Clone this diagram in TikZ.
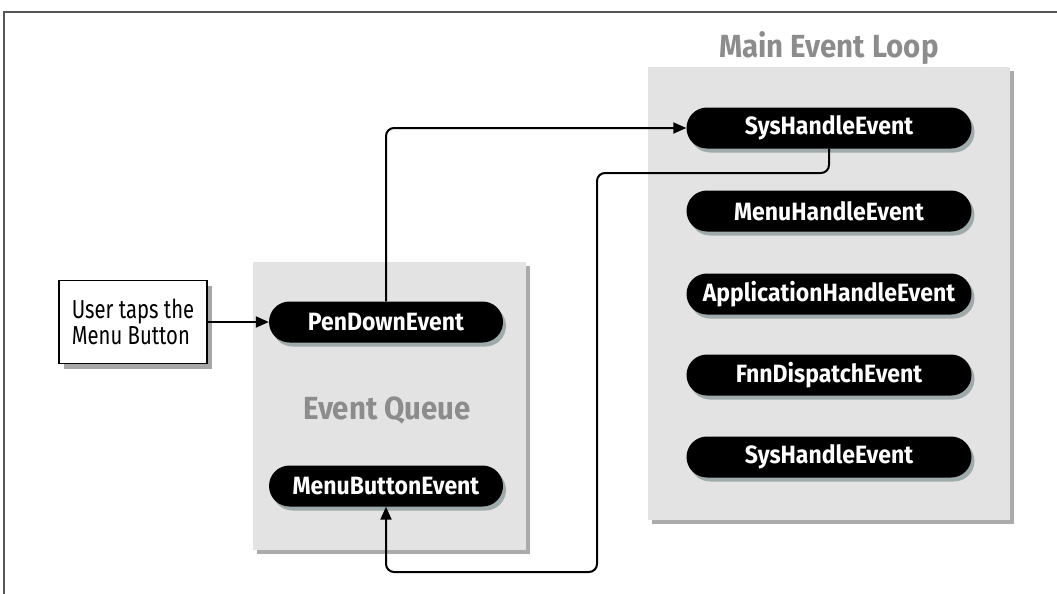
\documentclass[tikz,border=0pt]{standalone}
\usepackage{fontspec}
\newfontfamily\pillfont[FakeStretch=0.92]{Fira Sans}
\newfontfamily\userfont[FakeStretch=0.78]{Fira Sans}
\usetikzlibrary{arrows.meta,shapes.misc,shadows}
\definecolor{panel}{HTML}{E3E3E3}
\definecolor{panelshadow}{HTML}{ABABAB}
\definecolor{titlegray}{HTML}{8C8C8C}
\definecolor{pillshadow}{HTML}{8E9C9C}
\definecolor{framegray}{HTML}{555555}
\tikzset{
  panelbox/.style={fill=panel, draw=none, drop shadow={shadow xshift=4pt, shadow yshift=-4pt, fill=panelshadow, opacity=1}},
  pill/.style={rounded rectangle, fill=black, text=white, minimum height=41pt, inner sep=0pt,
    font=\pillfont\bfseries\fontsize{25}{28}\selectfont,
    drop shadow={shadow xshift=3pt, shadow yshift=-4pt, fill=pillshadow, opacity=0.8}},
  bigpill/.style={pill, minimum width=285pt},
  smallpill/.style={pill, minimum width=234pt},
  paneltitle/.style={text=titlegray, font=\pillfont\bfseries\fontsize{32}{34}\selectfont},
  userbox/.style={draw=black, line width=1.2pt, fill=white, minimum width=148pt, minimum height=83pt,
    align=left, font=\userfont\fontsize{26}{26}\selectfont,
    drop shadow={shadow xshift=5pt, shadow yshift=-5pt, fill=gray!70, opacity=1}},
  conn/.style={line width=2pt, rounded corners=8pt, -{Triangle[length=13pt,width=11pt]}},
}
\begin{document}
\begin{tikzpicture}[x=1pt,y=-1pt]
\useasboundingbox (0,0) rectangle (1057,594);
\fill[white] (0,0) rectangle (1057,594);
% frame
\draw[line width=2.5pt, framegray] (4,594) -- (4,12) -- (1057,12);
% panels
\path[panelbox] (648,67) rectangle (1010,520);
\path[panelbox] (253,262) rectangle (526,550);
\node[paneltitle] (mtitle) at (829,48) {Main Event Loop};
\node[paneltitle] (qtitle) at (387,410) {Event Queue};
% main loop pills
\node[bigpill] (sh1) at (829,128) {SysHandleEvent};
\node[bigpill] (mh)  at (829,211) {MenuHandleEvent};
\node[bigpill] (ah)  at (829,294) {ApplicationHandleEvent};
\node[bigpill] (fd)  at (829,375) {FnnDispatchEvent};
\node[bigpill] (sh2) at (829,457) {SysHandleEvent};
% queue pills
\node[smallpill] (pd) at (386,322) {PenDownEvent};
\node[smallpill] (mb) at (386,486) {MenuButtonEvent};
% user box
\node[userbox] (user) at (133,322) {User taps the\\Menu Button};
% connectors
\coordinate (c1) at (597,173);
\coordinate (c2) at (597,572);
\draw[conn] (user.east) -- (pd.west);
\draw[conn] (pd.north) |- (sh1.west);
\draw[conn] (sh1.south) |- (c1) -- (c2) -| (mb.south);
\end{tikzpicture}
\end{document}
